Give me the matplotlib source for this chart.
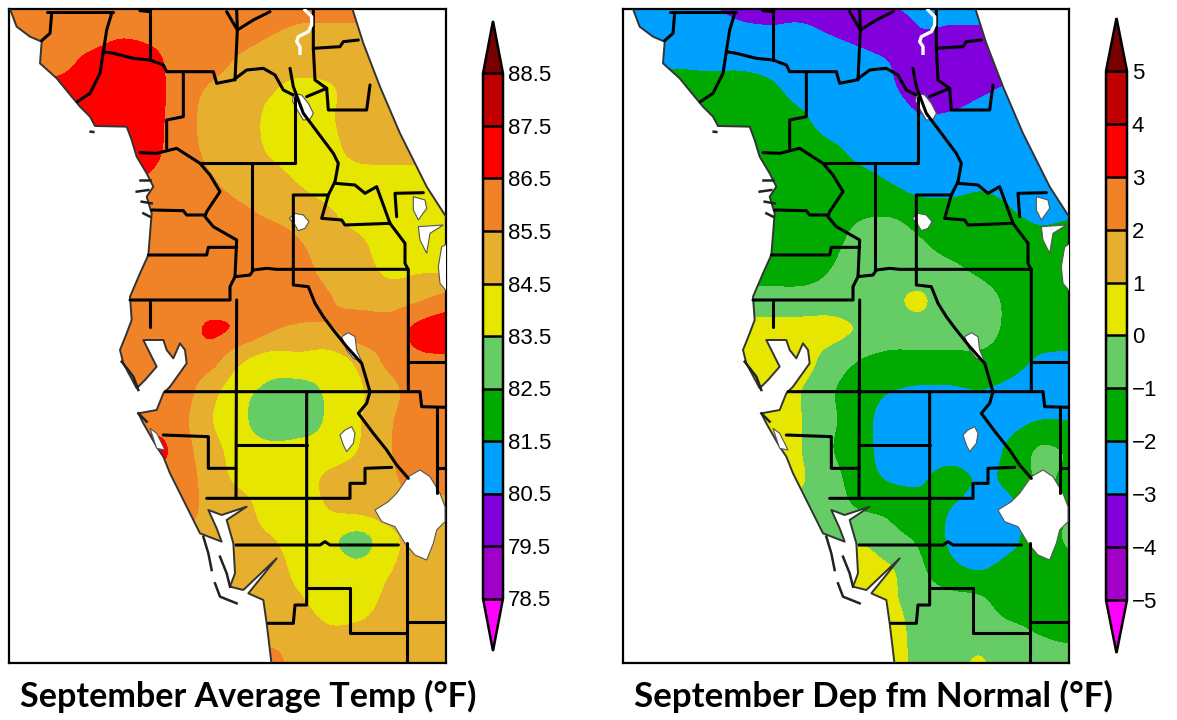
import matplotlib
matplotlib.use("Agg")
import matplotlib.pyplot as plt
from matplotlib.colors import ListedColormap, BoundaryNorm
from matplotlib.patches import Polygon
import numpy as np

W, H = 1177, 720

# colour bands, coldest to warmest (with the two arrow ends)
band_colors = ['#ff00ff', '#a000c8', '#8200dc', '#00a0ff', '#00aa00', '#66cc66',
               '#e6e600', '#e6af2d', '#f08228', '#ff0000', '#c00000', '#780000']
temp_levels = [78.5, 79.5, 80.5, 81.5, 82.5, 83.5, 84.5, 85.5, 86.5, 87.5, 88.5]
dep_levels = [-5, -4, -3, -2, -1, 0, 1, 2, 3, 4, 5]
temp_labels = ['78.5', '79.5', '80.5', '81.5', '82.5', '83.5', '84.5', '85.5', '86.5', '87.5', '88.5']
dep_labels = ['\u22125', '\u22124', '\u22123', '\u22122', '\u22121', '0', '1', '2', '3', '4', '5']
titles = ['September Average Temp (\u00b0F)', 'September Dep fm Normal (\u00b0F)']

# station analysis, one row every 90 map units north to south
temp_grid = [
    [86, 86, 86, 86, 86, 86, 86, 86, 86, 86, 85.9, 85.8, 85.8, 85.8, 85.8, 85.8],
    [86, 86, 86, 86, 86.3, 86.2, 86, 86, 85.9, 85.6, 85.4, 85.4, 85.4, 85.3, 85.3, 85.3],
    [86, 86, 86.2, 86.7, 87, 86.8, 86.1, 85.9, 85.4, 85.1, 85, 85, 85, 85, 85, 85],
    [86.5, 86.8, 86.8, 87, 87, 87, 86, 85.4, 85, 84.6, 84.2, 84.4, 85, 85, 85, 85],
    [87, 87, 87, 87, 87, 86.9, 86, 85.2, 85, 84.3, 84, 84.4, 85, 85, 85, 85],
    [87, 87, 87, 87, 87, 86.8, 86, 85.3, 85, 84.4, 84, 84.2, 84.9, 85, 85, 85],
    [87, 87, 87, 87, 86.8, 86.4, 86, 85.6, 85.1, 84.9, 84.4, 84, 84, 84, 84, 84],
    [86, 86, 86, 86, 86, 86, 86, 86, 85.65, 85.3, 85, 84.55, 84, 84, 84, 84],
    [86, 86, 86, 86, 86, 86, 86, 86, 86, 85.9, 85.5, 85, 84.6, 84, 84, 84],
    [86, 86, 86, 86, 86, 86, 86, 86, 86, 86, 85.8, 85.2, 84.9, 84.3, 84.4, 84.4],
    [86, 86, 86, 86, 86, 86, 86, 86, 86, 86, 86, 85.55, 85.2, 85.1, 85.45, 85.9],
    [86, 86, 86, 86, 86, 86, 86, 86.62, 86.3, 85.6, 85.3, 85.4, 86, 86, 86.8, 87.2],
    [86, 86, 86, 86, 86, 86, 86, 85.9, 84.7, 84.1, 84.2, 84.1, 84.8, 85.8, 86.3, 86.3],
    [86, 86, 86, 86, 86, 86, 86, 84.9, 83.9, 83.3, 83.2, 83.7, 84.4, 85.2, 86, 85.6],
    [86, 86, 86, 86, 86, 86, 85.8, 84.6, 83.8, 82.8, 82.9, 83.7, 84.45, 85.4, 86, 85.9],
    [86, 86, 86, 86, 86, 87, 86, 84.9, 84.1, 83.8, 83.9, 84, 84.55, 85.45, 86, 86],
    [86, 86, 86, 86, 86, 86, 86, 85.1, 84.3, 84, 84.1, 84.7, 85, 85.3, 86, 86],
    [86, 86, 86, 86, 86, 86, 86, 85.2, 85, 84, 84, 84.5, 84.7, 85, 85, 85],
    [85, 85, 85, 85, 85, 85, 85, 85.3, 85, 84.6, 84, 83.7, 83.2, 84.2, 85, 85],
    [85, 85, 85, 85, 85, 85, 85, 85, 85, 85, 84.2, 84, 83.8, 84.45, 85, 85],
    [85, 85, 85, 85, 85, 85, 85, 85, 85, 85, 84.6, 84, 84, 84.8, 85, 85],
    [85, 85, 85, 85, 85, 85, 85, 85, 85, 85, 85, 84.6, 84.7, 85, 85, 85],
    [85, 85, 85, 85, 85, 85, 85, 85, 85, 85.8, 85, 85, 85, 85, 85, 85],
]
dep_grid = [
    [-2.5, -2.5, -2.5, -3.0, -3.4, -3.5, -3.5, -3.6, -3.5, -2.9, -2.6, -2.6, -2.6, -2.6, -2.6, -2.6],
    [-2.5, -2.5, -2.5, -2.5, -2.8, -2.9, -2.85, -3.1, -3.4, -3.7, -3.05, -3.1, -3.1, -3.1, -3.1, -3.1],
    [-2.2, -2.2, -2.2, -2.3, -2.3, -2.4, -2.5, -2.5, -2.7, -3.05, -3.7, -3.9, -3.9, -3.8, -3.8, -3.8],
    [-1.5, -1.5, -1.5, -1.5, -1.5, -1.8, -2.3, -2.5, -2.5, -2.85, -3.4, -3.6, -3.2, -2.8, -2.5, -2.5],
    [-1.5, -1.5, -1.5, -1.5, -1.5, -1.5, -1.8, -2.4, -2.5, -2.5, -2.9, -2.8, -2.5, -2.5, -2.5, -2.5],
    [-1.5, -1.5, -1.5, -1.5, -1.5, -1.5, -1.5, -1.8, -2.25, -2.5, -2.5, -2.5, -2.5, -2.5, -2.5, -2.5],
    [-1.5, -1.5, -1.5, -1.5, -1.5, -1.5, -1.5, -1.5, -1.7, -2.05, -2.5, -2.6, -2.3, -2.4, -2.5, -2.5],
    [-1.5, -1.5, -1.5, -1.5, -1.5, -1.5, -1.5, -1.5, -1.2, -1.2, -1.55, -1.6, -1.5, -1.95, -2.3, -2.2],
    [-1.5, -1.5, -1.5, -1.5, -1.5, -1.5, -1.5, -1.3, -0.7, -0.5, -0.95, -1.4, -1.5, -1.5, -1.7, -1.6],
    [-1.5, -1.5, -1.5, -1.5, -1.5, -1.5, -1.5, -1.0, -0.5, -0.5, -0.5, -0.8, -1.15, -1.5, -1.5, -1.5],
    [-0.5, -0.5, -0.5, -0.5, -0.5, -0.5, -0.5, -0.5, -0.5, -0.2, 0.1, -0.5, -0.6, -1.2, -1.5, -1.5],
    [0.3, 0.3, 0.3, 0.3, 0.3, 0.3, 0.3, 0.3, -0.1, -0.4, -0.4, -0.5, -0.5, -1.25, -1.5, -1.5],
    [0.5, 0.5, 0.5, 0.5, 0.5, 0.5, 0.5, -0.4, -1.0, -1.3, -1.3, -1.3, -1.3, -1.6, -2.1, -2.2],
    [0.5, 0.5, 0.5, 0.5, 0.5, 0.5, 0.05, -0.85, -1.5, -1.95, -2.1, -2.1, -2.0, -2.2, -2.5, -2.5],
    [0.5, 0.5, 0.5, 0.5, 0.5, 0.5, 0.05, -0.8, -1.6, -2.4, -2.5, -2.5, -2.5, -2.3, -2.0, -2.0],
    [0.5, 0.5, 0.5, 0.5, 0.5, 0.5, 0.05, -0.9, -1.6, -2.4, -2.5, -2.5, -2.5, -1.8, -0.9, -1.1],
    [0.5, 0.5, 0.5, 0.5, 0.5, 0.5, 0.1, -0.6, -1.5, -2.05, -2.1, -1.6, -2.1, -1.8, -0.9, -1.2],
    [-0.3, -0.3, -0.3, -0.3, -0.3, -0.3, -0.3, -0.6, -1.0, -1.2, -1.6, -2.0, -2.5, -2.2, -1.5, -1.0],
    [-0.7, -0.7, -0.7, -0.7, -0.7, -0.7, -0.7, -0.7, -0.1, -0.7, -1.15, -2.1, -2.5, -2.2, -1.5, -0.9],
    [0.5, 0.5, 0.5, 0.5, 0.5, 0.5, 0.5, 0.5, 0.5, 0.1, -0.8, -1.7, -2.0, -1.7, -1.5, -1.3],
    [0.5, 0.5, 0.5, 0.5, 0.5, 0.5, 0.5, 0.5, 0.5, 0.2, -0.5, -0.7, -0.85, -1.5, -1.5, -1.5],
    [0.5, 0.5, 0.5, 0.5, 0.5, 0.5, 0.5, 0.5, 0.5, 0.5, -0.4, -0.5, -0.5, -0.8, -1.1, -1.4],
    [0.5, 0.5, 0.5, 0.5, 0.5, 0.5, 0.5, 0.5, 0.5, 0.5, -0.3, -0.3, 0.05, -0.5, -0.5, -0.5],
]

# map outlines, map units are 3x image pixels
west_coast = [
    (30, 27), (50, 80), (90, 110), (125, 125), (120, 190), (170, 235), (215, 290), (240, 320), (270, 350),
    (285, 378), (380, 380), (395, 420), (410, 470), (440, 520), (460, 560), (440, 590), (455, 640), (445, 765),
    (420, 820), (390, 890), (395, 960), (380, 1000), (360, 1050), (370, 1090), (410, 1165), (435, 1140),
    (470, 1100), (430, 1020), (490, 1020), (500, 1050), (520, 1075), (540, 1030), (555, 1050), (560, 1090),
    (510, 1160), (490, 1180), (470, 1230), (415, 1240), (430, 1270), (470, 1340), (490, 1370), (510, 1420),
    (570, 1540), (600, 1600), (665, 1625), (650, 1585), (625, 1530), (665, 1545), (740, 1520), (680, 1560),
    (700, 1630), (705, 1720), (690, 1760), (730, 1770), (830, 1675), (745, 1780), (790, 1800), (800, 1870),
    (815, 1995),
]
east_coast = [(1338, 650), (1280, 560), (1200, 400), (1140, 260), (1090, 130), (1055, 20)]
lakes = [
    [(880, 280), (905, 285), (925, 310), (940, 340), (930, 358), (910, 360), (895, 335), (878, 305)],
    [(868, 655), (885, 640), (910, 645), (927, 665), (915, 685), (895, 692), (885, 675)],
    [(1025, 1010), (1045, 998), (1065, 1010), (1070, 1050), (1085, 1085), (1060, 1075), (1040, 1050)],
    [(1020, 1305), (1035, 1290), (1055, 1280), (1065, 1300), (1060, 1330), (1040, 1355), (1030, 1335)],
    [(1125, 1530), (1165, 1505), (1190, 1480), (1225, 1430), (1260, 1410), (1290, 1430), (1320, 1480),
     (1335, 1520), (1335, 1565), (1310, 1590), (1300, 1630), (1280, 1680), (1245, 1665), (1215, 1630),
     (1185, 1580), (1145, 1565)],
    [(1240, 590), (1275, 600), (1280, 625), (1255, 660), (1240, 630)],
    [(1255, 680), (1330, 675), (1290, 700), (1280, 760), (1260, 720)],
    [(1325, 740), (1345, 730), (1345, 880), (1320, 850), (1315, 800)],
    [(450, 1285), (470, 1300), (495, 1350), (470, 1345)],
]
st_johns = [(915, 30), (935, 50), (935, 75), (925, 95), (895, 110), (890, 125), (900, 140), (900, 160)]
county_lines = [
    [(140, 35), (340, 35)], [(420, 32), (450, 35)],
    [(155, 40), (150, 100), (125, 122)],
    [(335, 40), (320, 90), (310, 155), (300, 220), (270, 280), (232, 305)],
    [(310, 155), (340, 160), (400, 175), (450, 180), (490, 195), (500, 215), (640, 215), (650, 250), (700, 240),
     (740, 210), (790, 205), (825, 225), (850, 270), (880, 285)],
    [(550, 220), (550, 350), (500, 360), (500, 445)],
    [(450, 30), (450, 180)],
    [(710, 30), (712, 90), (705, 240)], [(680, 35), (712, 90), (760, 60), (810, 35)],
    [(940, 30), (940, 145), (945, 240), (980, 265), (985, 330), (1100, 330), (1110, 255)],
    [(940, 145), (1020, 140), (1030, 125), (1075, 120)],
    [(870, 205), (880, 260), (910, 340), (940, 380), (1000, 460), (1015, 490), (1005, 545)],
    [(920, 290), (980, 265)],
    [(420, 458), (470, 460), (530, 445), (600, 490), (630, 525), (660, 575), (620, 635), (615, 650), (640, 680),
     (710, 720), (705, 830), (750, 825), (760, 810), (800, 805), (830, 808), (1225, 808)],
    [(600, 488), (885, 488), (885, 290)],
    [(755, 490), (755, 810)],
    [(455, 630), (550, 632), (560, 645), (615, 645)],
    [(445, 765), (620, 765), (625, 742), (710, 742)],
    [(705, 830), (690, 860), (690, 900), (390, 900)],
    [(710, 900), (708, 1495)],
    [(450, 905), (450, 980)],
    [(985, 585), (880, 585), (880, 855), (925, 860), (945, 910), (970, 950), (1000, 990), (1040, 1040), (1085, 1090),
     (1110, 1175), (1100, 1210), (1075, 1240), (1120, 1300), (1160, 1350), (1190, 1395), (1225, 1435)],
    [(1005, 545), (985, 585), (965, 655), (1025, 660), (1035, 675), (1170, 670)],
    [(1005, 550), (1065, 555), (1095, 580), (1130, 560), (1170, 670), (1215, 730), (1215, 790), (1225, 810),
     (1225, 1175)],
    [(1270, 578), (1185, 580), (1190, 650)],
    [(495, 1175), (1260, 1175), (1265, 1220), (1338, 1222)],
    [(1225, 1085), (1338, 1085)],
    [(708, 1335), (920, 1335)],
    [(920, 1175), (920, 1815), (885, 1815), (880, 1870), (805, 1870)],
    [(490, 1305), (625, 1310), (625, 1405), (708, 1405)],
    [(620, 1495), (1050, 1495), (1050, 1450), (1095, 1450), (1095, 1405), (1175, 1402)],
    [(708, 1635), (960, 1635), (975, 1625), (990, 1635), (1195, 1635)],
    [(925, 1765), (1050, 1765), (1050, 1900), (1220, 1900)],
    [(1220, 1630), (1220, 1990)],
    [(1220, 1865), (1338, 1865)],
    [(1310, 1222), (1310, 1405), (1338, 1405)],
    [(1310, 1405), (1310, 1480)],
]
barrier_islands = [
    [(610, 1610), (625, 1660), (635, 1710)],
    [(660, 1670), (680, 1720), (690, 1760)],
    [(645, 1750), (660, 1790), (710, 1810)],
    [(365, 1085), (400, 1130), (415, 1170)],
    [(415, 1240), (440, 1265)],
    [(420, 540), (450, 540)], [(410, 575), (445, 570)], [(425, 605), (455, 610)], [(430, 640), (450, 650)],
    [(272, 395), (280, 396)],
]


def px_axes(left, top, right, bottom):
    return fig.add_axes([left / W, 1 - bottom / H, (right - left) / W, (bottom - top) / H])


def draw_map(ax, grid, levels, x0, shift):
    cmap = ListedColormap(band_colors[1:-1])
    cmap.set_under(band_colors[0])
    cmap.set_over(band_colors[-1])
    norm = BoundaryNorm(levels, cmap.N)
    im = ax.imshow(np.array(grid, dtype=float), cmap=cmap, norm=norm, interpolation='catrom',
                   interpolation_stage='data', aspect='auto', zorder=1,
                   extent=(-45 + shift, 1395 + shift, 2025, -45))
    outline = west_coast + [(1400, 1995), (1400, 650)] + east_coast
    land = Polygon(outline, closed=True, transform=ax.transData, fc='none', ec='none')
    ax.add_patch(land)
    im.set_clip_path(land)
    for line in [west_coast, east_coast]:
        pts = np.array(line)
        ax.plot(pts[:, 0], pts[:, 1], color='#333333', lw=1.4, zorder=3)
    for lake in lakes:
        ax.add_patch(Polygon(lake, closed=True, fc='white', ec='#555555', lw=0.8, zorder=4))
    for line in county_lines:
        pts = np.array(line)
        ax.plot(pts[:, 0], pts[:, 1], color='black', lw=2.2, solid_capstyle='round', zorder=5)
    for line in barrier_islands:
        pts = np.array(line)
        ax.plot(pts[:, 0], pts[:, 1], color='#222222', lw=1.8, zorder=5)
    pts = np.array(st_johns)
    ax.plot(pts[:, 0], pts[:, 1], color='white', lw=2.4, zorder=6)
    ax.set_xlim(x0, 1338)
    ax.set_ylim(1989, 27)
    ax.set_xticks([])
    ax.set_yticks([])
    for s in ax.spines.values():
        s.set_linewidth(1.6)
    return im


def draw_bar(cax, im, levels, labels):
    cb = fig.colorbar(im, cax=cax, extend='both', extendfrac=0.1, drawedges=True, spacing='uniform')
    cb.set_ticks(levels, labels=labels)
    cb.ax.tick_params(length=0, pad=3.5, labelsize=16)
    for lab in cb.ax.get_yticklabels():
        lab.set_fontfamily('Liberation Sans')
    cb.outline.set_linewidth(1.8)
    cb.dividers.set_linewidth(1.8)
    return cb


fig = plt.figure(figsize=(W / 100, H / 100), dpi=100)

ax1 = px_axes(9, 9, 446, 663)
im1 = draw_map(ax1, temp_grid, temp_levels, 27, 0)
draw_bar(px_axes(483, 21, 503, 651), im1, temp_levels, temp_labels)

ax2 = px_axes(623, 9, 1069, 663)
im2 = draw_map(ax2, dep_grid, dep_levels, 0, -9)
draw_bar(px_axes(1106, 18, 1127, 653), im2, dep_levels, dep_labels)

fig.text(20 / W, 1 - 696 / H, titles[0], fontsize=24.6, fontweight='bold', family='Lato', va='center', ha='left')
fig.text(634 / W, 1 - 696 / H, titles[1], fontsize=25.1, fontweight='bold', family='Lato', va='center', ha='left')

fig.savefig('out.png', dpi=100)
